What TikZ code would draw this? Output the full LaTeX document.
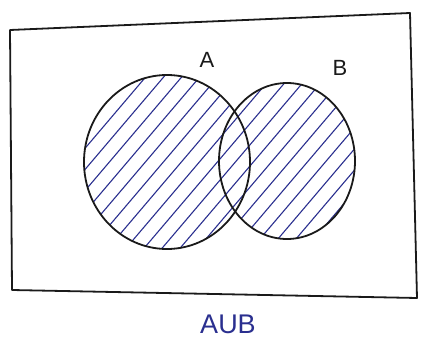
\documentclass[tikz,border=0pt]{standalone}
\usepackage{fontspec}
\setmainfont{Liberation Sans}
\usetikzlibrary{positioning}
\definecolor{ink}{HTML}{1A1A1A}
\definecolor{pen}{HTML}{2A2F8F}
\tikzset{
  frame/.style={draw=ink,line width=1.8pt,line join=round},
  setline/.style={draw=ink,line width=1.8pt},
  hatch/.style={draw=pen,line width=1.1pt,line cap=round},
  setlabel/.style={font=\fontsize{22}{22}\selectfont,text=ink,inner sep=0pt}
}
\begin{document}
\begin{tikzpicture}[x=1pt,y=-1pt]
  \useasboundingbox (0,0) rectangle (426,340);
  % universe
  \draw[frame] (10,30) -- (410,13) -- (417,298) -- (12,290) -- cycle;
  % hatching of the union
  \begin{scope}
    \clip (167,162) ellipse [x radius=83,y radius=87]
          (287,161) ellipse [x radius=68,y radius=78];
    \foreach \c in {72,90,...,380}
      \draw[hatch] (\c-150,340) -- (\c+140,-1);
  \end{scope}
  % sets
  \draw[setline] (167,162) ellipse [x radius=83,y radius=87];
  \draw[setline] (287,161) ellipse [x radius=68,y radius=78];
  % labels
  \node[setlabel] (labA) at (207,60) {A};
  \node[setlabel] (labB) at (340,68) {B};
  \node[setlabel,text=pen,font=\fontsize{27}{27}\selectfont] (caption) at (228,324) {AUB};
\end{tikzpicture}
\end{document}
